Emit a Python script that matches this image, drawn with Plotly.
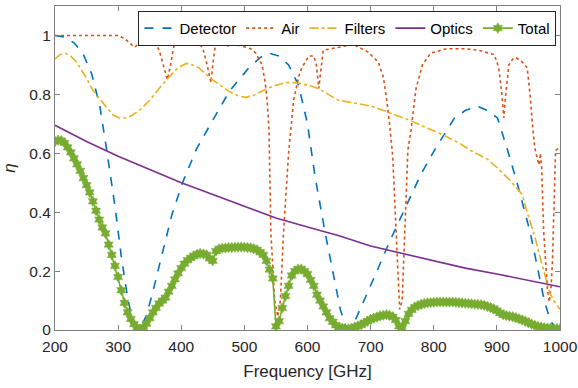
import plotly.graph_objects as go

# ---------------- data ----------------
det_f = [200, 215, 230, 244, 258, 271, 282, 295, 305, 315, 322, 329, 336, 345, 355, 370, 385, 402,
         424, 444, 476, 507, 525, 539, 555, 570, 586, 600, 612, 628, 644, 652, 660, 667, 675, 690,
         707, 730, 759, 780, 801, 833, 850, 869, 885, 901, 917, 932, 953, 975, 985, 992, 1000]
det_v = [1.0, 0.995, 0.975, 0.94, 0.87, 0.76, 0.61, 0.42, 0.25, 0.11, 0.04, 0.008, 0.01, 0.05, 0.13,
         0.26, 0.39, 0.50, 0.614, 0.69, 0.81, 0.89, 0.925, 0.94, 0.93, 0.90, 0.83, 0.70, 0.52, 0.33,
         0.15, 0.07, 0.015, 0.005, 0.03, 0.10, 0.185, 0.30, 0.43, 0.53, 0.61, 0.72, 0.745, 0.76,
         0.745, 0.72, 0.61, 0.50, 0.33, 0.10, 0.03, 0.01, 0.0]

air_f = [200, 300, 310, 318, 326, 335, 345, 352, 360, 365, 372, 378, 383, 388, 394, 405, 418, 428,
         435, 441, 447, 451, 455, 465, 472, 478, 496, 510, 518, 528, 533, 536, 539, 542, 548, 553,
         557, 562, 570, 578, 586, 591, 602, 610, 614, 618, 621, 625, 650, 672, 695, 712, 720, 725,
         730, 735, 740, 746, 750, 755, 759, 764, 772, 782, 795, 820, 848, 870, 896, 903, 908, 911,
         914, 919, 925, 930, 940, 948, 953, 957, 960, 964, 967, 969, 971, 974, 980, 983, 986, 988,
         991, 993, 1000]
air_v = [1.0, 1.0, 0.99, 0.975, 0.96, 0.975, 0.99, 0.99, 0.97, 0.95, 0.90, 0.85, 0.90, 0.96, 0.99,
         0.99, 0.99, 0.98, 0.95, 0.90, 0.84, 0.92, 0.98, 0.98, 0.96, 0.975, 0.965, 0.955, 0.94, 0.90,
         0.84, 0.78, 0.68, 0.33, 0.10, 0.045, 0.10, 0.33, 0.60, 0.78, 0.86, 0.89, 0.93, 0.93, 0.90,
         0.82, 0.88, 0.95, 0.96, 0.97, 0.945, 0.91, 0.86, 0.79, 0.70, 0.59, 0.35, 0.07, 0.10, 0.40,
         0.61, 0.68, 0.82, 0.90, 0.94, 0.955, 0.955, 0.95, 0.935, 0.89, 0.80, 0.72, 0.80, 0.90, 0.92,
         0.925, 0.91, 0.89, 0.79, 0.68, 0.62, 0.58, 0.56, 0.60, 0.55, 0.34, 0.14, 0.095, 0.15, 0.23,
         0.45, 0.61, 0.62]

fil_f = [200, 208, 216, 225, 234, 247, 260, 272, 282, 292, 302, 313, 323, 336, 350, 365, 381, 395,
         408, 418, 428, 449, 462, 476, 490, 502, 513, 523, 536, 549, 565, 581, 602, 617, 633, 649,
         676, 701, 727, 745, 764, 790, 817, 840, 858, 885, 901, 920, 932, 940, 948, 955, 961, 968,
         974, 980, 984, 990, 1000]
fil_v = [0.92, 0.935, 0.94, 0.93, 0.91, 0.865, 0.815, 0.78, 0.755, 0.73, 0.72, 0.72, 0.73, 0.75,
         0.78, 0.82, 0.86, 0.89, 0.905, 0.90, 0.89, 0.85, 0.83, 0.81, 0.795, 0.79, 0.795, 0.805,
         0.82, 0.83, 0.84, 0.84, 0.83, 0.82, 0.80, 0.78, 0.77, 0.76, 0.74, 0.725, 0.71, 0.685, 0.66,
         0.635, 0.61, 0.58, 0.55, 0.51, 0.48, 0.46, 0.40, 0.35, 0.31, 0.25, 0.20, 0.155, 0.125,
         0.10, 0.07]

opt_f = [200, 250, 300, 350, 400, 450, 500, 550, 600, 650, 700, 750, 800, 850, 900, 950, 1000]
opt_v = [0.695, 0.64, 0.59, 0.545, 0.50, 0.46, 0.42, 0.38, 0.35, 0.32, 0.285, 0.26, 0.235, 0.21,
         0.19, 0.168, 0.147]

tot_f = list(range(200, 1001, 5))
tot_v = [0.640, 0.645, 0.643, 0.635, 0.620, 0.603, 0.583, 0.562, 0.540, 0.516,
         0.492, 0.467, 0.437, 0.405, 0.375, 0.348, 0.328, 0.290, 0.255, 0.218,
         0.180, 0.135, 0.092, 0.060, 0.038, 0.020, 0.008, 0.002, 0.010, 0.022,
         0.040, 0.060, 0.075, 0.090, 0.100, 0.110, 0.130, 0.150, 0.172, 0.192,
         0.210, 0.225, 0.237, 0.245, 0.252, 0.257, 0.260, 0.258, 0.255, 0.243,
         0.235, 0.268, 0.275, 0.278, 0.278, 0.280, 0.280, 0.281, 0.281, 0.282,
         0.281, 0.280, 0.279, 0.276, 0.272, 0.264, 0.255, 0.235, 0.205, 0.175,
         0.012, 0.030, 0.075, 0.115, 0.150, 0.185, 0.200, 0.207, 0.207, 0.200,
         0.190, 0.170, 0.150, 0.120, 0.100, 0.080, 0.060, 0.040, 0.028, 0.016,
         0.010, 0.006, 0.004, 0.004, 0.006, 0.010, 0.014, 0.018, 0.024, 0.030,
         0.036, 0.040, 0.044, 0.048, 0.050, 0.052, 0.050, 0.045, 0.034, 0.012,
         0.006, 0.030, 0.055, 0.068, 0.078, 0.083, 0.087, 0.090, 0.092, 0.093,
         0.094, 0.095, 0.095, 0.095, 0.095, 0.095, 0.095, 0.094, 0.093, 0.092,
         0.091, 0.090, 0.089, 0.088, 0.087, 0.086, 0.084, 0.080, 0.076, 0.072,
         0.066, 0.058, 0.052, 0.049, 0.047, 0.045, 0.042, 0.038, 0.034, 0.030,
         0.025, 0.020, 0.016, 0.012, 0.010, 0.008, 0.007, 0.006, 0.005, 0.005,
         0.004]

x_ticks = [200, 300, 400, 500, 600, 700, 800, 900, 1000]
y_ticks = [0, 0.2, 0.4, 0.6, 0.8, 1]

# ---------------- figure ----------------
FONT = "Liberation Sans, Arial, sans-serif"
AX = "#808080"
TXT = "#262626"

fig = go.Figure()
fig.add_trace(go.Scatter(x=det_f, y=det_v, mode="lines", name="Detector",
                         line=dict(color="#0072BD", width=1.6, dash="dash")))
fig.add_trace(go.Scatter(x=air_f, y=air_v, mode="lines", name="Air",
                         line=dict(color="#D95319", width=1.6, dash="dot")))
fig.add_trace(go.Scatter(x=fil_f, y=fil_v, mode="lines", name="Filters",
                         line=dict(color="#EDB120", width=1.6, dash="dashdot")))
fig.add_trace(go.Scatter(x=opt_f, y=opt_v, mode="lines", name="Optics",
                         line=dict(color="#7E2F8E", width=1.6)))
fig.add_trace(go.Scatter(x=tot_f, y=tot_v, mode="lines+markers", name="Total",
                         line=dict(color="#77AC30", width=1.6),
                         marker=dict(symbol="hexagram", size=8, color="#77AC30",
                                     line=dict(color="#77AC30", width=0.5))))

fig.update_layout(
    width=578, height=388,
    margin=dict(l=55, r=18, t=6, b=58, autoexpand=False),
    paper_bgcolor="white", plot_bgcolor="white",
    font=dict(family=FONT, size=16, color=TXT),
    showlegend=True,
    legend=dict(orientation="h", x=0.993, xanchor="right", y=0.985, yanchor="top",
                bgcolor="white", bordercolor=TXT, borderwidth=1,
                font=dict(family=FONT, size=15, color="#000000"),
                itemwidth=30, tracegroupgap=0, traceorder="normal"),
    xaxis=dict(range=[200, 1000], tickvals=x_ticks, ticks="inside", ticklen=5,
               tickcolor=AX, showline=True, linecolor=AX, linewidth=1, mirror="ticks",
               showgrid=False, zeroline=False, ticklabeloverflow="allow", automargin=False,
               ticklabelstandoff=2,
               tickfont=dict(family=FONT, size=15.5, color=TXT),
               title=dict(text="Frequency [GHz]", font=dict(family=FONT, size=17, color=TXT),
                          standoff=11)),
    yaxis=dict(range=[0, 1.1], tickvals=y_ticks, ticks="inside", ticklen=5,
               tickcolor=AX, showline=True, linecolor=AX, linewidth=1, mirror="ticks",
               showgrid=False, zeroline=False, automargin=False,
               tickfont=dict(family=FONT, size=15.5, color=TXT),
               title=dict(text="<i>η</i>", font=dict(family=FONT, size=17, color=TXT),
                          standoff=11)),
)

fig.write_html("out.html", config={"displayModeBar": False},
               post_script="document.body.style.margin='0';document.body.style.overflow='hidden';")
